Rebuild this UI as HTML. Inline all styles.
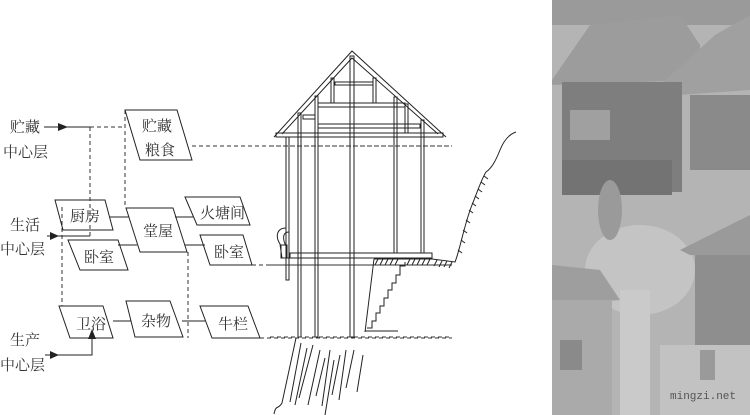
<!DOCTYPE html>
<html><head><meta charset="utf-8"><style>
html,body{margin:0;padding:0;background:#fff;}
svg{display:block}
text{font-family:"Liberation Serif","Noto Serif CJK SC",serif;font-size:15px;fill:#333;}
</style></head><body>
<svg width="750" height="415" viewBox="0 0 750 415" xmlns="http://www.w3.org/2000/svg">
<g stroke="#222" stroke-width="1" fill="none">
<g stroke-dasharray="4,3" stroke="#333">
<line x1="90" y1="127" x2="125" y2="127"/>
<line x1="90" y1="127" x2="90" y2="238"/>
<line x1="125" y1="110" x2="125" y2="208"/>
<line x1="192" y1="146" x2="452" y2="146"/>
<line x1="252" y1="265" x2="452" y2="265"/>
<line x1="260" y1="338" x2="452" y2="338"/>
<line x1="62" y1="207" x2="62" y2="306"/>
<line x1="188" y1="252" x2="188" y2="338"/>
</g>
<polygon points="125,110 177,110 192,160 140,160"/>
<polygon points="55,200 105,200 113,230 63,230"/>
<polygon points="68,240 118,240 128,270 80,270"/>
<polygon points="126,208 173,208 187,252 140,252"/>
<polygon points="185,197 240,197 250,225 197,225"/>
<polygon points="200,235 243,235 252,265 210,265"/>
<polygon points="59,306 103,306 113,338 70,338"/>
<polygon points="126,301 170,301 183,337 135,337"/>
<polygon points="200,306 248,306 260,338 212,338"/>
<line x1="110" y1="217" x2="129" y2="217"/>
<line x1="118" y1="245" x2="137" y2="245"/>
<line x1="175" y1="217" x2="193" y2="217"/>
<line x1="185" y1="245" x2="205" y2="245"/>
<line x1="113" y1="321" x2="131" y2="321"/>
<line x1="182" y1="321" x2="205" y2="321"/>
<line x1="44" y1="127" x2="90" y2="127"/>
<line x1="47" y1="236" x2="90" y2="236"/>
<polyline points="45,355 92,355 92,335"/>
</g>
<g fill="#222">
<polygon points="58,123 68,127 58,131"/>
<polygon points="50,232 59,236 50,240"/>
<polygon points="50,351 59,355 50,359"/>
<polygon points="88,339 92,329 96,339"/>
</g>
<text x="10" y="132">贮藏</text><text x="3" y="157">中心层</text>
<text x="10" y="230">生活</text><text x="0" y="254">中心层</text>
<text x="10" y="345">生产</text><text x="0" y="370">中心层</text>
<text x="142" y="131">贮藏</text><text x="145" y="155">粮食</text>
<text x="70" y="221">厨房</text>
<text x="84" y="262">卧室</text>
<text x="143" y="236">堂屋</text>
<text x="200" y="218">火塘间</text>
<text x="214" y="257">卧室</text>
<text x="76" y="329">卫浴</text>
<text x="141" y="326">杂物</text>
<text x="218" y="329">牛栏</text>

<g stroke="#222" stroke-width="1" fill="none">
<polyline points="274,137 352,51 446,137"/>
<polyline points="282,134 352,58 438,134"/>
<rect x="276" y="133" width="167" height="4"/>
<rect x="335" y="82" width="38" height="3"/>
<rect x="318" y="103" width="87" height="4"/>
<rect x="303" y="115" width="12" height="4"/>
<rect x="318" y="124" width="102" height="4"/>
<rect x="331" y="78" width="3" height="25"/>
<rect x="373" y="78" width="3" height="25"/>
<rect x="405" y="104" width="3" height="29"/>
<rect x="286" y="137" width="3" height="143"/>
<rect x="298" y="113" width="3" height="224"/>
<rect x="315" y="96" width="3" height="241"/>
<rect x="350" y="56" width="4" height="281"/>
<rect x="394" y="97" width="3" height="156"/>
<rect x="421" y="120" width="3" height="133"/>
<rect x="290" y="253" width="142" height="5"/>
<path d="M286,228 C277,228 275,236 280,244 L282,258 L289,258 M289,232 C283,232 282,238 286,246"/>
<rect x="281" y="245" width="6" height="13"/>
<line x1="374" y1="259" x2="365" y2="332"/>
<line x1="365" y1="331" x2="398" y2="331"/>
<polyline points="405,262 405,266 400,266 400,275 396,275 396,283 392,283 392,290 388,290 388,298 384,298 384,306 380,306 380,313 376,313 376,321 372,321 372,328 367,328"/>
<line x1="374" y1="259" x2="432" y2="259"/>
<path d="M432,259 L455,262 C460,250 464,225 472,205 C478,190 482,178 486,172 C492,168 496,160 500,150 C504,140 510,134 516,132"/>
<path d="M378,259 l-3,6 M383,259 l-3,6 M388,259 l-3,6 M393,259 l-3,6 M398,259 l-3,6 M410,259 l-3,6 M415,259 l-3,6 M420,259 l-3,6 M425,259 l-3,6 M430,259 l-3,6 M437,260 l-3,6 M442,261 l-3,6 M447,261 l-3,6 M452,262 l-3,6"/>
<path d="M458,250 l4,3 M461,240 l4,3 M463,230 l4,3 M466,220 l4,3 M469,210 l4,3 M472,203 l4,3 M475,196 l4,3 M478,189 l4,3 M481,182 l4,3 M484,176 l4,3"/>
<path d="M296,338 L282,403 C278,410 276,404 274,414 M301,343 L290,402 M307,348 L295,405 M313,345 L299,398 M320,350 L308,405 M325,358 L316,396 M330,350 L322,406 M334,360 L325,415 M340,355 L332,395 M346,350 L339,400 M354,350 L346,388 M363,355 L357,392"/>
</g>
<g stroke="#333" stroke-dasharray="4,3" fill="none">
<line x1="270" y1="146" x2="452" y2="146"/>
<line x1="270" y1="265" x2="452" y2="265"/>
<line x1="270" y1="337" x2="452" y2="337"/>
</g>

<!-- photo -->
<rect x="552" y="0" width="198" height="415" fill="#b4b4b4"/>
<rect x="552" y="0" width="198" height="25" fill="#9a9a9a"/>
<polygon points="552,80 590,25 680,15 700,45 700,80 552,85" fill="#9c9c9c"/>
<polygon points="660,85 715,35 750,15 750,90 680,95" fill="#a0a0a0"/>
<rect x="562" y="82" width="120" height="110" fill="#7e7e7e"/>
<rect x="570" y="110" width="40" height="30" fill="#a0a0a0"/>
<rect x="690" y="95" width="60" height="75" fill="#8a8a8a"/>
<rect x="562" y="160" width="110" height="35" fill="#737373"/>
<ellipse cx="640" cy="270" rx="55" ry="45" fill="#c4c4c4"/>
<ellipse cx="610" cy="210" rx="12" ry="30" fill="#9a9a9a"/>
<polygon points="680,250 750,215 750,255 690,255" fill="#9a9a9a"/>
<rect x="695" y="255" width="55" height="90" fill="#8e8e8e"/>
<polygon points="552,265 600,270 620,300 552,305" fill="#9e9e9e"/>
<rect x="552" y="300" width="60" height="115" fill="#aaaaaa"/>
<rect x="560" y="340" width="22" height="30" fill="#8a8a8a"/>
<rect x="620" y="290" width="30" height="125" fill="#cacaca"/>
<rect x="660" y="345" width="90" height="70" fill="#c2c2c2"/>
<rect x="700" y="350" width="15" height="30" fill="#9a9a9a"/>
<text x="670" y="399" style="font-family:'Liberation Mono',monospace;font-size:11px;fill:#555">mingzi.net</text>
</svg>
</body></html>
